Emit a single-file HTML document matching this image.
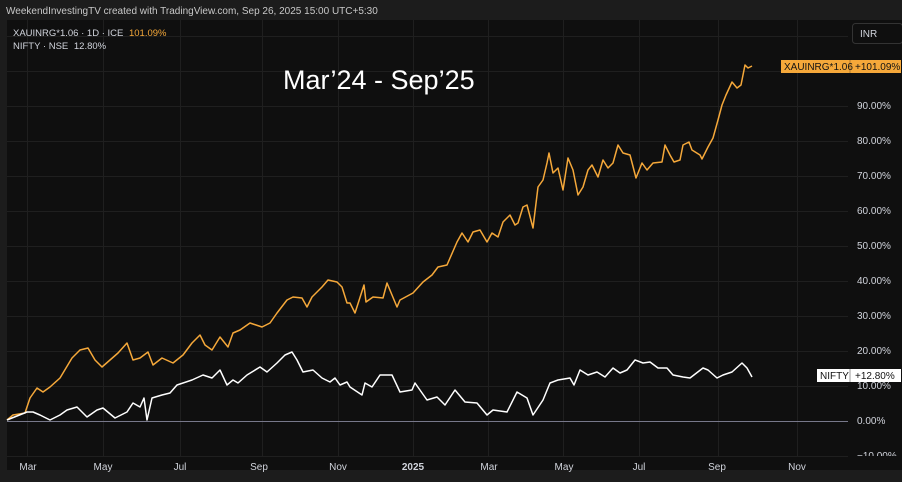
<!DOCTYPE html>
<html><head><meta charset="utf-8"><style>
body{margin:0;width:902px;height:482px;background:#1c1c1c;overflow:hidden;font-family:"Liberation Sans",sans-serif}
</style></head><body>
<svg width="902" height="482" xmlns="http://www.w3.org/2000/svg" style="position:absolute;left:0;top:0">
<rect x="0" y="0" width="902" height="482" fill="#1c1c1c"/>
<rect x="7" y="20" width="895" height="450" fill="#0f0f0f"/>
<g stroke="#1f1f1f" stroke-width="1">
<line x1="7" x2="848" y1="456.5" y2="456.5"/>
<line x1="7" x2="848" y1="386.5" y2="386.5"/><line x1="7" x2="848" y1="351.5" y2="351.5"/>
<line x1="7" x2="848" y1="316.5" y2="316.5"/><line x1="7" x2="848" y1="281.5" y2="281.5"/>
<line x1="7" x2="848" y1="246.5" y2="246.5"/><line x1="7" x2="848" y1="211.5" y2="211.5"/>
<line x1="7" x2="848" y1="176.5" y2="176.5"/><line x1="7" x2="848" y1="141.5" y2="141.5"/>
<line x1="7" x2="848" y1="106.5" y2="106.5"/><line x1="7" x2="848" y1="71.5" y2="71.5"/>
<line x1="7" x2="848" y1="36.5" y2="36.5"/>
<line y1="20" y2="456" x1="27.5" x2="27.5"/><line y1="20" y2="456" x1="103.5" x2="103.5"/>
<line y1="20" y2="456" x1="180.5" x2="180.5"/><line y1="20" y2="456" x1="262.5" x2="262.5"/>
<line y1="20" y2="456" x1="338.5" x2="338.5"/><line y1="20" y2="456" x1="413.5" x2="413.5"/>
<line y1="20" y2="456" x1="488.5" x2="488.5"/><line y1="20" y2="456" x1="563.5" x2="563.5"/>
<line y1="20" y2="456" x1="639.5" x2="639.5"/><line y1="20" y2="456" x1="718.5" x2="718.5"/>
<line y1="20" y2="456" x1="797.5" x2="797.5"/>
</g>
<line x1="7" x2="848" y1="421.5" y2="421.5" stroke="#77788a" stroke-width="1"/>
<polyline fill="none" stroke="#f5a83a" stroke-width="1.5" stroke-linejoin="round" points="7,420 13,415 25,413 30,398 37,388 43,392 50,387 60,378 72,358 80,350 88,348 95,360 102,367 110,360 118,353 127,343 133,360 140,358 148,352 153,365 162,358 173,363 183,355 192,343 200,335 205,345 212,350 220,337 228,347 233,333 240,330 250,323 262,327 270,323 277,313 287,300 293,297 302,298 307,307 312,297 322,287 328,280 337,282 342,287 347,303 350,303 355,313 364,285 366,302 373,297 383,298 387,283 392,295 397,307 400,300 413,293 423,282 432,275 438,267 447,265 457,242 462,233 468,242 473,232 480,230 487,242 492,233 498,237 503,222 510,215 515,225 518,223 523,207 527,205 533,228 538,187 543,180 547,163 549,153 553,173 558,168 563,190 568,158 573,170 578,195 583,187 588,170 592,165 598,177 603,160 608,168 613,163 618,145 623,153 630,155 636,178 642,163 647,170 653,163 662,162 665,145 670,155 674,162 680,160 683,145 689,142 692,150 700,155 702,159 708,147 713,138 718,120 722,105 726,95 732,82 737,88 741,85 745,65 748,68 752,66"/>
<polyline fill="none" stroke="#ffffff" stroke-width="1.5" stroke-linejoin="round" points="7,420 27,412 33,412 40,415 50,420 60,415 67,410 77,407 87,417 97,410 103,408 115,418 127,412 133,403 140,407 144,398 147,420 152,398 162,395 170,393 177,385 192,380 203,375 212,378 220,370 227,385 233,380 238,383 247,375 260,367 267,372 277,363 285,355 292,352 297,360 303,372 313,370 322,378 330,382 335,378 340,385 347,382 350,387 362,395 365,383 372,387 380,375 392,375 400,392 412,390 415,383 427,400 437,397 445,405 455,390 465,402 477,403 487,415 493,410 507,412 517,392 527,398 533,415 543,400 550,383 558,380 570,378 574,385 580,370 588,375 597,372 605,377 613,368 620,373 627,370 635,360 643,363 650,362 658,368 667,368 673,375 683,377 690,378 703,368 708,370 717,378 723,375 732,372 742,363 747,368 752,377"/>
<g fill="#d1d4dc" font-size="10">
<text x="857" y="109">90.00%</text><text x="857" y="144">80.00%</text>
<text x="857" y="179">70.00%</text><text x="857" y="214">60.00%</text>
<text x="857" y="249">50.00%</text><text x="857" y="284">40.00%</text>
<text x="857" y="319">30.00%</text><text x="857" y="354">20.00%</text>
<text x="857" y="389">10.00%</text><text x="857" y="424">0.00%</text>
<text x="857" y="459">−10.00%</text>
</g>
<rect x="848" y="456" width="54" height="14" fill="#0f0f0f"/>
<g fill="#d1d4dc" font-size="10" text-anchor="middle">
<text x="28" y="470">Mar</text><text x="103" y="470">May</text><text x="180" y="470">Jul</text>
<text x="259" y="470">Sep</text><text x="338" y="470">Nov</text>
<text x="413" y="470" font-weight="bold">2025</text><text x="489" y="470">Mar</text>
<text x="564" y="470">May</text><text x="639" y="470">Jul</text><text x="717" y="470">Sep</text>
<text x="797" y="470">Nov</text>
</g>
<rect x="852.5" y="23.5" width="50" height="20" rx="3" fill="#0f0f0f" stroke="#333"/>
<text x="860" y="37" fill="#d1d4dc" font-size="10">INR</text>
<rect x="781" y="60" width="120" height="13" fill="#f5a83a"/>
<line x1="850" x2="850" y1="60" y2="73" stroke="#b0782a"/>
<text x="784" y="70" fill="#131313" font-size="10">XAUINRG*1.06</text>
<text x="855" y="70" fill="#131313" font-size="10">+101.09%</text>
<rect x="817" y="369" width="84" height="13" fill="#ffffff"/>
<line x1="850" x2="850" y1="369" y2="382" stroke="#999"/>
<text x="820" y="379" fill="#131313" font-size="10">NIFTY</text>
<text x="855" y="379" fill="#131313" font-size="10">+12.80%</text>
<text x="6" y="14" fill="#c8c8c8" font-size="10">WeekendInvestingTV created with TradingView.com, Sep 26, 2025 15:00 UTC+5:30</text>
<text x="13" y="36" fill="#d1d4dc" font-size="9.5">XAUINRG*1.06 · 1D · ICE <tspan fill="#f5a83a" dx="3">101.09%</tspan></text>
<text x="13" y="49" fill="#d1d4dc" font-size="9.5">NIFTY · NSE <tspan dx="3">12.80%</tspan></text>
<text x="283" y="89" fill="#ffffff" font-size="27">Mar’24 - Sep’25</text>
</svg>
</body></html>
